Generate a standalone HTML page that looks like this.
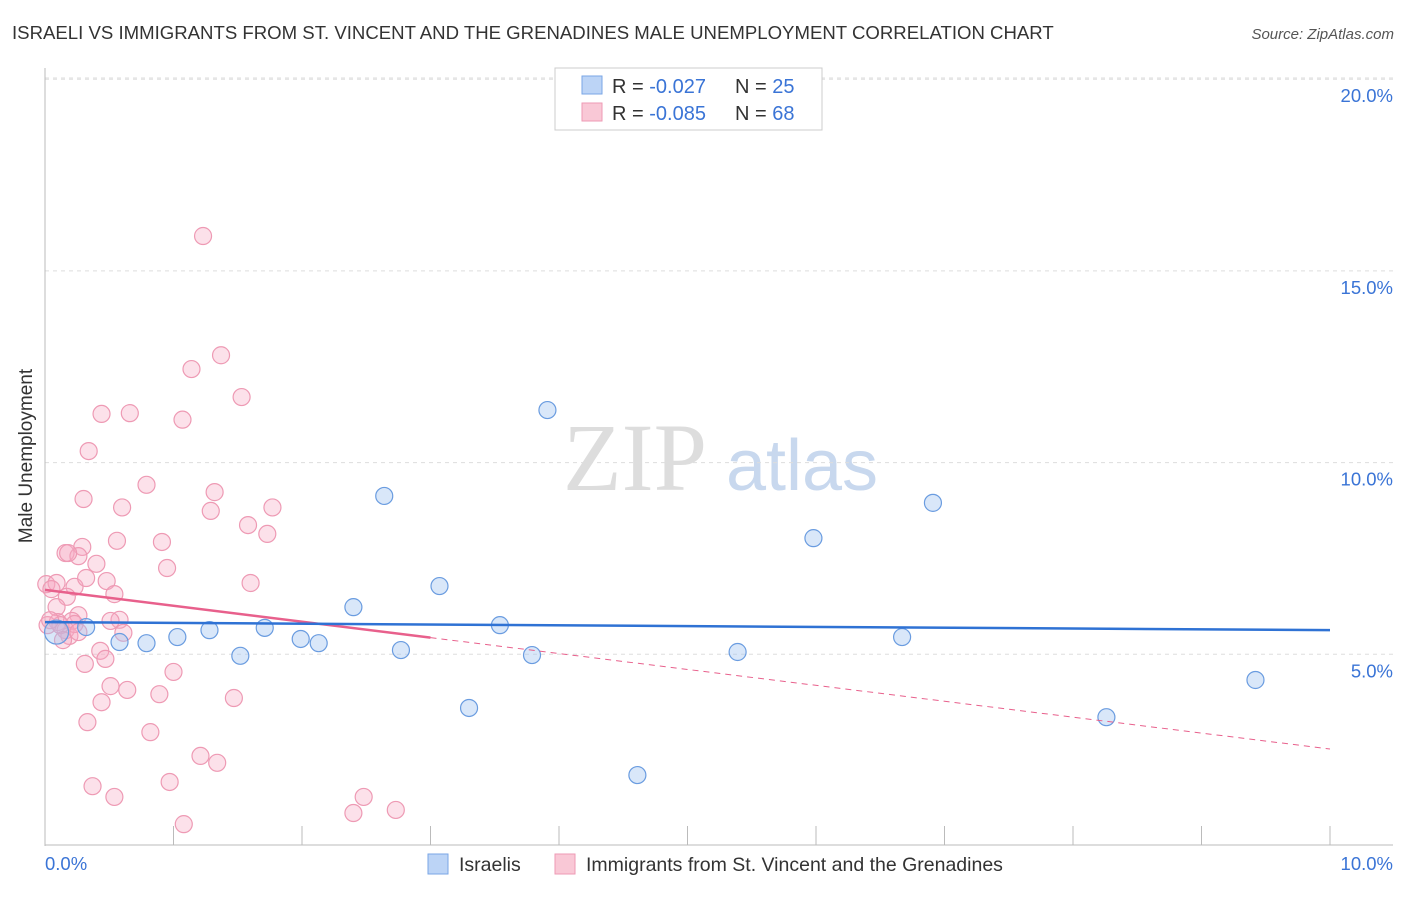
<!DOCTYPE html>
<html><head><meta charset="utf-8"><style>
body{margin:0;background:#fff;font-family:"Liberation Sans",sans-serif;}
#c{position:relative;width:1406px;height:892px;}
</style></head><body>
<div id="c">
<svg id="s" width="1406" height="892" xmlns="http://www.w3.org/2000/svg">
<text x="12" y="39" font-size="18.6" fill="#333">ISRAELI VS IMMIGRANTS FROM ST. VINCENT AND THE GRENADINES MALE UNEMPLOYMENT CORRELATION CHART</text>
<text x="1394" y="39" font-size="15" fill="#555" font-style="italic" text-anchor="end">Source: ZipAtlas.com</text>
<text x="32" y="456" font-size="19" fill="#333" text-anchor="middle" transform="rotate(-90 32 456)">Male Unemployment</text>
<g><text x="635" y="490" font-size="96" fill="#ddd" font-family="Liberation Serif" text-anchor="middle">ZIP</text><text x="802" y="490" font-size="72" fill="#c8d8ee" text-anchor="middle">atlas</text></g>
<g id="grid"></g><g id="marks"></g>
<g>
<rect x="555" y="68" width="267" height="62" fill="#fff" stroke="#ccc"/>
<rect x="582" y="76" width="20" height="18" fill="#bcd4f6" stroke="#7aa6e6"/>
<text x="612" y="93" font-size="20" fill="#333">R = <tspan fill="#3a74d6">-0.027</tspan></text>
<text x="735" y="93" font-size="20" fill="#333">N = <tspan fill="#3a74d6">25</tspan></text>
<rect x="582" y="103" width="20" height="18" fill="#f9c8d6" stroke="#ee9ab4"/>
<text x="612" y="120" font-size="20" fill="#333">R = <tspan fill="#3a74d6">-0.085</tspan></text>
<text x="735" y="120" font-size="20" fill="#333">N = <tspan fill="#3a74d6">68</tspan></text>
</g>
<g>
<rect x="428" y="854" width="20" height="20" fill="#bcd4f6" stroke="#7aa6e6"/>
<text x="459" y="871" font-size="19.5" fill="#333">Israelis</text>
<rect x="555" y="854" width="20" height="20" fill="#f9c8d6" stroke="#ee9ab4"/>
<text x="586" y="871" font-size="19.5" fill="#333">Immigrants from St. Vincent and the Grenadines</text>
</g>
<text x="45" y="870" font-size="18.5" fill="#3a74d6">0.0%</text>
<text x="1393" y="870" font-size="18.5" fill="#3a74d6" text-anchor="end">10.0%</text>
</svg></div>
<script>
const yTicks=[5,10,15,20];
const yTickLabels=["5.0%","10.0%","15.0%","20.0%"];
const xTicks=[0,1,2,3,4,5,6,7,8,9,10];
const israeliX=[0.09,0.32,0.58,0.79,1.03,1.28,1.52,1.71,1.99,2.13,2.40,2.64,2.77,3.07,3.30,3.54,3.79,3.91,4.61,5.39,5.98,6.67,6.91,8.26,9.42];
const israeliY=[5.58,5.71,5.32,5.29,5.45,5.63,4.96,5.69,5.40,5.29,6.23,9.13,5.11,6.78,3.60,5.76,4.98,11.37,1.85,5.06,8.03,5.45,8.95,3.36,4.33];
const vincentX=[1.23,1.37,1.14,0.66,0.44,1.53,1.07,0.34,0.79,0.30,1.32,0.60,1.29,1.77,1.58,1.73,0.56,0.91,0.16,0.29,0.26,0.95,0.40,1.60,0.01,0.09,0.23,0.48,0.32,0.54,0.17,0.09,0.26,0.10,0.21,0.58,0.16,0.02,0.61,0.19,0.43,0.47,0.31,1.00,0.51,0.64,0.89,1.47,0.44,0.33,0.82,1.21,1.34,0.37,0.97,0.54,2.48,2.73,2.40,1.08,0.12,0.14,0.05,0.51,0.23,0.04,0.18,0.26];
const vincentY=[15.91,12.80,12.44,11.29,11.27,11.71,11.12,10.30,9.42,9.05,9.23,8.83,8.74,8.83,8.37,8.14,7.96,7.93,7.64,7.80,7.56,7.25,7.36,6.86,6.83,6.86,6.76,6.91,6.99,6.57,6.50,6.23,6.02,5.84,5.87,5.90,5.63,5.76,5.56,5.48,5.09,4.88,4.75,4.54,4.17,4.07,3.96,3.86,3.75,3.23,2.97,2.35,2.17,1.56,1.67,1.28,1.28,0.94,0.86,0.57,5.76,5.37,6.70,5.87,5.79,5.89,7.64,5.58];
const israeliTrend=[5.84,5.63];
const vincentTrend=[6.68,2.53];
const vincentSolidEnd=3.0;
const NS="http://www.w3.org/2000/svg";
const X=v=>45+v*128.5, Y=v=>846-v*38.34;
function mk(tag,attrs,parent){const e=document.createElementNS(NS,tag);for(const k in attrs)e.setAttribute(k,attrs[k]);parent.appendChild(e);return e;}
const g=document.getElementById('grid'), m=document.getElementById('marks');
let e=mk('line',{x1:45,x2:1393,y1:78,y2:78,stroke:'#ddd','stroke-dasharray':'4,4'},g);


yTicks.forEach((t,i)=>{
 let l=mk('line',{x1:45,x2:1393,y1:Y(t),y2:Y(t),stroke:'#ddd','stroke-dasharray':'4,4'},g);
 
 
 let tx=mk('text',{x:1393,y:Y(t)+23,'font-size':18.5,fill:'#3a74d6','text-anchor':'end'},g);
 tx.textContent=yTickLabels[i];
 
 
});
e=mk('line',{x1:45,x2:45,y1:68,y2:846,stroke:'#bbb'},g);


e=mk('line',{x1:45,x2:1393,y1:845,y2:845,stroke:'#bbb'},g);


xTicks.forEach(t=>{
 let l=mk('line',{x1:X(t),x2:X(t),y1:826,y2:845,stroke:'#bbb'},g);
 
 
});
vincentX.forEach((x,i)=>{
 let c=mk('circle',{cx:X(x),cy:Y(vincentY[i]),r:8.5,fill:'rgba(246,170,195,0.35)',stroke:'#ee9ab4','stroke-width':1.2},m);
 
 
});
israeliX.forEach((x,i)=>{
 let c=mk('circle',{cx:X(x),cy:Y(israeliY[i]),r:i==0?12:8.5,fill:'rgba(160,195,240,0.4)',stroke:'#6a9ce0','stroke-width':1.2},m);
 
 
});
const vy=x=>vincentTrend[0]+(vincentTrend[1]-vincentTrend[0])*x/10;
e=mk('line',{x1:X(0),y1:Y(vincentTrend[0]),x2:X(vincentSolidEnd),y2:Y(vy(vincentSolidEnd)),stroke:'#e8608c','stroke-width':2.5},m);


e=mk('line',{x1:X(vincentSolidEnd),y1:Y(vy(vincentSolidEnd)),x2:X(10),y2:Y(vincentTrend[1]),stroke:'#e8608c','stroke-width':1,'stroke-dasharray':'6,5'},m);


e=mk('line',{x1:X(0),y1:Y(israeliTrend[0]),x2:X(10),y2:Y(israeliTrend[1]),stroke:'#2f72d4','stroke-width':2.5},m);


</script>
</body></html>
